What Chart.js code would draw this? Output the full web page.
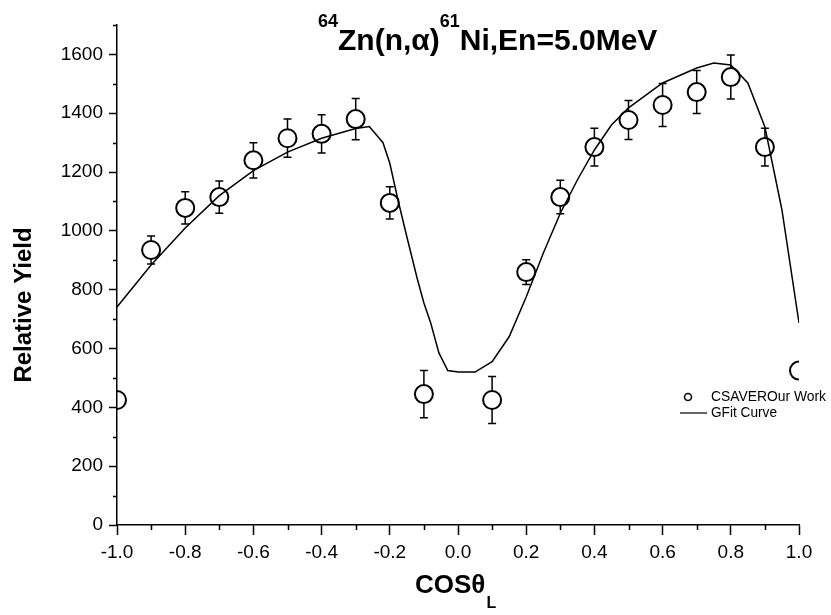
<!DOCTYPE html>
<html>

<head>
  <title>64Zn(n,alpha)61Ni Relative Yield</title>
  <script src="https://cdn.jsdelivr.net/npm/chart.js"></script>
  <style>
    body { margin: 0; background: #fff; }
  </style>
</head>

<body>
  <canvas id="yieldChart" width="831" height="615"></canvas>
  <script>
    // measured angular distribution (CSAVER, our work)
    var cosTheta = [-1.0, -0.9, -0.8, -0.7, -0.6, -0.5, -0.4, -0.3, -0.2, -0.1,
                     0.1, 0.2, 0.3, 0.4, 0.5, 0.6, 0.7, 0.8, 0.9, 1.0];
    var yieldVals = [425, 935, 1078, 1115, 1240, 1315, 1330, 1380, 1095, 445,
                     425, 860, 1115, 1285, 1377, 1428, 1472, 1523, 1285, 525];
    var yieldErr = [0, 48, 55, 55, 60, 65, 65, 70, 55, 80,
                    80, 42, 57, 64, 66, 73, 73, 75, 64, 0];

    // fit curve
    var fitCos = [-1.0, -0.9, -0.8, -0.7, -0.6, -0.5, -0.4, -0.3, -0.26, -0.22, -0.2, -0.176,
                  -0.15, -0.12, -0.1, -0.08, -0.056, -0.03, 0.0, 0.05, 0.1, 0.15, 0.2, 0.25,
                  0.3, 0.35, 0.4, 0.45, 0.5, 0.6, 0.7, 0.75, 0.8, 0.85, 0.9, 0.95, 1.0];
    var fitYield = [741, 884, 1010, 1120, 1205, 1268, 1315, 1348, 1355, 1300, 1230, 1105,
                    980, 840, 755, 687, 585, 525, 520, 520, 555, 640, 775, 924,
                    1060, 1173, 1275, 1360, 1418, 1503, 1554, 1571, 1564, 1503, 1353, 1071, 687];

    // labelled ticks
    var xTickLabels = [-1.0, -0.8, -0.6, -0.4, -0.2, 0.0, 0.2, 0.4, 0.6, 0.8, 1.0];
    var yTickLabels = [0, 200, 400, 600, 800, 1000, 1200, 1400, 1600];

    var FONT = "'Liberation Sans', Arial, sans-serif";

    function isMajorX(v) { return Math.round(v * 10) % 2 === 0; }
    function isMajorY(v) { return Math.round(v) % 200 === 0; }

    var measured = cosTheta.map(function (c, i) { return { x: c, y: yieldVals[i] }; });
    var fitted = fitCos.map(function (c, i) { return { x: c, y: fitYield[i] }; });

    // error bars, minor ticks, title, axis titles and legend
    var decorations = {
      id: 'decorations',
      afterDatasetsDraw: function (chart) {
        var ctx = chart.ctx, xs = chart.scales.x, ys = chart.scales.y;
        var r = 9, cap = 4;
        ctx.save();
        ctx.strokeStyle = '#000';
        ctx.lineWidth = 1.5;
        cosTheta.forEach(function (c, i) {
          var e = yieldErr[i];
          if (!e) return;
          var px = xs.getPixelForValue(c);
          var cy = ys.getPixelForValue(yieldVals[i]);
          var top = ys.getPixelForValue(yieldVals[i] + e);
          var bot = ys.getPixelForValue(yieldVals[i] - e);
          ctx.beginPath();
          if (top < cy - r) {
            ctx.moveTo(px, top); ctx.lineTo(px, cy - r);
            ctx.moveTo(px - cap, top); ctx.lineTo(px + cap, top);
          }
          if (bot > cy + r) {
            ctx.moveTo(px, cy + r); ctx.lineTo(px, bot);
            ctx.moveTo(px - cap, bot); ctx.lineTo(px + cap, bot);
          }
          ctx.stroke();
        });
        ctx.restore();
      },
      afterDraw: function (chart) {
        var ctx = chart.ctx, xs = chart.scales.x, ys = chart.scales.y;
        var area = chart.chartArea;
        ctx.save();
        ctx.strokeStyle = '#000';
        ctx.fillStyle = '#000';
        ctx.lineWidth = 1.5;

        // minor ticks
        ctx.beginPath();
        for (var v = 100; v <= 1700; v += 200) {
          var py = Math.round(ys.getPixelForValue(v)) + 0.5;
          ctx.moveTo(area.left - 4, py); ctx.lineTo(area.left, py);
        }
        for (var k = -9; k <= 9; k += 2) {
          var px = Math.round(xs.getPixelForValue(k / 10)) + 0.5;
          ctx.moveTo(px, area.bottom); ctx.lineTo(px, area.bottom + 5);
        }
        ctx.stroke();

        // title with superscripts
        var x = 318;
        var big = 'bold 30px ' + FONT, sup = 'bold 18px ' + FONT;
        var parts = [['64', sup, 27], ['Zn(n,\u03b1)', big, 50], ['61', sup, 27], ['Ni,En=5.0MeV', big, 50]];
        ctx.textBaseline = 'alphabetic';
        ctx.textAlign = 'left';
        parts.forEach(function (p) {
          ctx.font = p[1];
          ctx.fillText(p[0], x, p[2]);
          x += ctx.measureText(p[0]).width;
        });

        // y axis title
        ctx.save();
        ctx.translate(24, 305);
        ctx.rotate(-Math.PI / 2);
        ctx.font = 'bold 24px ' + FONT;
        ctx.textAlign = 'center';
        ctx.textBaseline = 'middle';
        ctx.fillText('Relative Yield', 0, 0);
        ctx.restore();

        // x axis title COS theta_L
        ctx.font = 'bold 26px ' + FONT;
        ctx.textAlign = 'left';
        ctx.textBaseline = 'alphabetic';
        ctx.fillText('COS\u03b8', 415, 593);
        var w = ctx.measureText('COS\u03b8').width;
        ctx.font = 'bold 16px ' + FONT;
        ctx.fillText('L', 415 + w + 1, 608);

        // legend
        ctx.lineWidth = 1.5;
        ctx.beginPath();
        ctx.arc(688, 397, 3.5, 0, Math.PI * 2);
        ctx.stroke();
        ctx.beginPath();
        ctx.lineWidth = 1.2;
        ctx.moveTo(680, 413); ctx.lineTo(707, 413);
        ctx.stroke();
        ctx.font = '14px ' + FONT;
        ctx.textBaseline = 'middle';
        ctx.fillText('CSAVEROur Work', 711, 397, 115);
        ctx.fillText('GFit Curve', 711, 413, 66);
        ctx.restore();
      }
    };

    var ctx = document.getElementById('yieldChart').getContext('2d');
    var chart = new Chart(ctx, {
      type: 'scatter',
      data: {
        datasets: [{
          label: 'CSAVEROur Work',
          data: measured,
          pointStyle: 'circle',
          pointRadius: 9,
          pointBorderWidth: 2,
          pointBorderColor: '#000',
          pointBackgroundColor: 'rgba(0,0,0,0)',
          clip: 0
        }, {
          label: 'GFit Curve',
          data: fitted,
          showLine: true,
          borderColor: '#000',
          borderWidth: 1.5,
          tension: 0,
          pointRadius: 0,
          clip: 0
        }]
      },
      options: {
        responsive: false,
        animation: false,
        devicePixelRatio: 1,
        layout: { padding: { left: 0, top: 25, right: 32, bottom: 0 } },
        plugins: {
          legend: { display: false },
          tooltip: { enabled: false }
        },
        scales: {
          x: {
            type: 'linear',
            min: -1,
            max: 1,
            afterFit: function (s) { s.height = 90; },
            afterBuildTicks: function (s) {
              var t = [];
              for (var k = -10; k <= 10; k++) t.push({ value: k / 10 });
              s.ticks = t;
            },
            ticks: {
              autoSkip: false,
              maxRotation: 0,
              padding: 6,
              color: '#000',
              font: { size: 19, family: FONT },
              callback: function (v) {
                var hit = xTickLabels.filter(function (t) { return Math.abs(t - v) < 1e-6; });
                return hit.length ? hit[0].toFixed(1) : '';
              }
            },
            grid: {
              drawOnChartArea: false,
              drawTicks: true,
              tickLength: 10,
              tickWidth: 1.5,
              tickColor: function (c) {
                return c.tick && isMajorX(c.tick.value) ? '#000' : 'rgba(0,0,0,0)';
              }
            },
            border: { display: true, color: '#000', width: 1.5 }
          },
          y: {
            min: 0,
            max: 1700,
            afterFit: function (s) { s.width = 117; },
            ticks: {
              stepSize: 100,
              padding: 6,
              color: '#000',
              font: { size: 19, family: FONT },
              callback: function (v) {
                return yTickLabels.indexOf(v) >= 0 ? String(v) : '';
              }
            },
            grid: {
              drawOnChartArea: false,
              drawTicks: true,
              tickLength: 8,
              tickWidth: 1.5,
              tickColor: function (c) {
                return c.tick && isMajorY(c.tick.value) ? '#000' : 'rgba(0,0,0,0)';
              }
            },
            border: { display: true, color: '#000', width: 1.5 }
          }
        }
      },
      plugins: [decorations]
    });
  </script>
</body>

</html>
